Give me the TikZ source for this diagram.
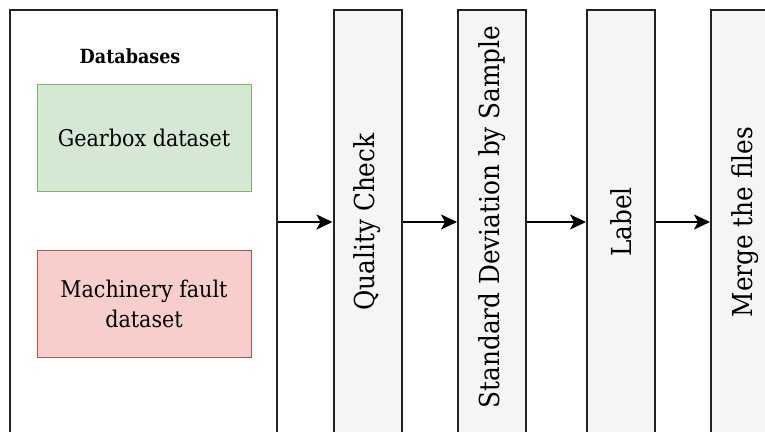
\documentclass[tikz,border=0pt]{standalone}
\usepackage{fontspec}
\setmainfont{DejaVu Serif Condensed}
\usetikzlibrary{arrows.meta}
\definecolor{gfill}{HTML}{D5E8D4}
\definecolor{gline}{HTML}{82B366}
\definecolor{rfill}{HTML}{F8CECC}
\definecolor{rline}{HTML}{B85450}
\definecolor{pfill}{HTML}{F5F5F5}
\definecolor{bline}{HTML}{222222}
\tikzset{
  bigbox/.style={draw=bline, line width=2pt, fill=white, minimum width=267pt, minimum height=424pt, inner sep=0pt},
  databox/.style={line width=1pt, minimum width=214pt, minimum height=107pt, align=center, inner sep=0pt, font=\fontsize{23}{30}\selectfont},
  procbox/.style={draw=bline, line width=2pt, fill=pfill, rotate=90, minimum width=424pt, minimum height=68pt, inner sep=0pt, font=\fontsize{27.5}{34}\selectfont},
  arr/.style={draw=black, line width=2pt, -{Stealth[length=16pt,width=15pt,inset=4pt]}}
}
\begin{document}
\begin{tikzpicture}[x=1pt,y=-1pt]
\useasboundingbox (0,0) rectangle (765,431);
\clip (0,0) rectangle (765,431);
\node[bigbox] (db) at (143.5,222) {};
\node[font=\bfseries\fontsize{19.5}{24}\selectfont] (dbt) at (130,56) {Databases};
\node[databox, draw=gline, fill=gfill] (gear) at (144,137.5) {Gearbox dataset};
\node[databox, draw=rline, fill=rfill] (mach) at (144,303.5) {Machinery fault\\dataset};
\node[procbox] (qc) at (367.5,222) {Quality Check};
\node[procbox] (sd) at (492,222) {\hspace*{10pt}Standard Deviation by Sample};
\node[procbox] (lb) at (621,222) {Label};
\node[procbox] (mf) at (745,222) {Merge the files};
\draw[arr] (db.east) -- (qc.north);
\draw[arr] (qc.south) -- (sd.north);
\draw[arr] (sd.south) -- (lb.north);
\draw[arr] (lb.south) -- (mf.north);
\end{tikzpicture}
\end{document}
